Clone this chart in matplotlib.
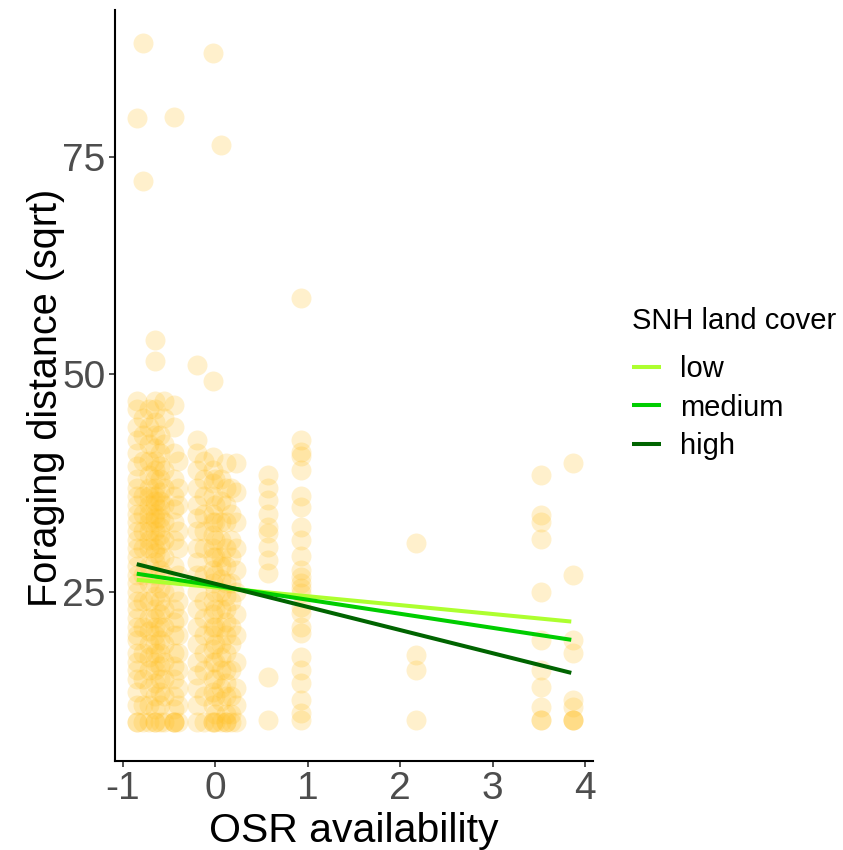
import numpy as np
import matplotlib.pyplot as plt

plt.rcParams['font.family'] = ['Liberation Sans', 'DejaVu Sans']
plt.rcParams['axes.unicode_minus'] = False

# foraging distance (sqrt) observed at each OSR availability value
osr_groups = [-0.85, -0.78, -0.72, -0.65, -0.60, -0.55, -0.45, -0.40, -0.20,
              -0.12, -0.03, 0.00, 0.06, 0.12, 0.17, 0.22, 0.57, 0.93, 2.17,
              3.52, 3.87]
dist_groups = [
    [10, 10, 12, 13.5, 15, 16, 17, 18, 19.5, 20, 21, 22, 23, 24, 25, 26, 27,
     28, 29, 30, 31, 32, 33, 34, 35, 36, 37, 38, 39.5, 41, 42.5, 44, 46, 47, 79.5],
    [88.1, 72.2, 45, 43, 40, 36, 34, 32, 30, 27, 24, 21, 18, 15, 12, 10],
    [46, 44, 42, 40, 38.5, 37, 36, 35, 34, 33, 32, 31, 30, 28, 26, 24, 22,
     20.5, 19, 17.5, 16, 14, 12, 10],
    [54.0, 51.6, 47, 46, 44.5, 43, 41.5, 40, 39, 38, 37, 36, 35.5, 35, 34, 33.5,
     33, 32, 31, 30, 29.5, 28.5, 27, 26, 24.5, 23, 22, 21, 20, 19, 18, 17, 16,
     14.5, 13, 11.5, 10, 10],
    [43, 41, 39.5, 38, 36.5, 35.5, 34.5, 33.5, 32.5, 31.5, 30.5, 29, 27.5, 25.5,
     24, 22.5, 21, 19.5, 18, 16.5, 15, 13.5, 12, 10],
    [47, 45, 42, 39, 37, 35, 33, 31, 29, 27, 25, 23, 21, 19, 17, 15, 13, 10],
    [79.6, 46.5, 44, 41, 38, 36, 34.5, 33, 31, 28, 25, 23, 21.5, 20, 18, 16.5,
     15, 13, 11.5, 10, 10, 10],
    [40, 37, 35, 32, 30, 27, 24, 22, 20, 18, 16, 14, 12, 10],
    [51.1, 42.5, 41, 39, 37, 35, 33.5, 32, 30, 28.5, 27, 25, 23, 21, 19, 17,
     15.5, 14, 12, 10],
    [40, 38, 36, 34, 32, 30, 27, 24, 22, 20, 18, 16, 13, 10],
    [87.0, 49.2, 40.5, 39, 37.5, 36, 34, 33, 31.5, 30, 29, 27.5, 26, 24, 22.5,
     21, 20, 18.5, 17, 15, 13.5, 12, 10, 10],
    [38, 35, 33, 31, 29, 27, 25, 23, 21, 19, 17, 15, 13, 11, 10],
    [76.4, 38, 35.5, 33, 31, 29, 28, 26.5, 25, 23, 21, 19, 17.5, 16, 14, 12.5, 10],
    [39.8, 37, 35, 33, 30, 28, 26, 24.5, 23, 21.5, 20, 18, 16, 14.5, 13, 11, 10, 10],
    [37, 34, 31, 29, 26, 24, 21, 19, 16, 13, 11, 10],
    [39.8, 36.5, 33, 30, 27.5, 25, 22.5, 20, 17, 14, 12, 10],
    [38.4, 37, 35.6, 34, 32.5, 31.8, 30.2, 28.7, 27.2, 15.2, 10.3],
    [58.8, 42.5, 41.1, 40.6, 39.0, 36.0, 34.8, 32.5, 31.0, 29.1, 27.5, 26.7,
     26.0, 25.5, 24.9, 23.3, 22.6, 21.0, 20.3, 17.5, 16.0, 14.5, 12.6, 11.1, 10.3],
    [30.6, 17.8, 16.0, 10.3],
    [38.4, 33.9, 33.1, 31.1, 25.0, 19.5, 16.0, 14.1, 11.8, 10.3, 10.3],
    [39.8, 27.0, 19.5, 18.0, 12.6, 11.8, 10.3, 10.3, 10.3],
]

# fitted lines per SNH land cover class
snh_levels = ['low', 'medium', 'high']
fit_x = [-0.85, 3.85]
fit_y = {'low': [26.4, 21.6], 'medium': [27.1, 19.5], 'high': [28.2, 15.7]}
line_colors = {'low': '#ADFF2F', 'medium': '#00CD00', 'high': '#006400'}

fig = plt.figure(figsize=(8.43, 8.5), dpi=100)
ax = fig.add_axes([115 / 843, 89 / 850, 478 / 843, 751 / 850])

xs = np.concatenate([[x] * len(ys) for x, ys in zip(osr_groups, dist_groups)])
ys = np.concatenate(dist_groups)
ax.scatter(xs, ys, s=207, color='#FFC125', alpha=0.23, linewidths=0, zorder=2)

for lvl in snh_levels:
    ax.plot(fit_x, fit_y[lvl], color=line_colors[lvl], lw=2.9, label=lvl,
            solid_capstyle='butt', zorder=3)

ax.set_xlim(-1.085, 4.085)
ax.set_ylim(5.57, 91.9)
ax.set_xticks([-1, 0, 1, 2, 3, 4])
ax.set_yticks([25, 50, 75])

for side in ['top', 'right']:
    ax.spines[side].set_visible(False)
for side in ['left', 'bottom']:
    ax.spines[side].set_linewidth(1.5)
    ax.spines[side].set_color('black')
ax.tick_params(axis='both', length=4, width=1.2, color='#333333',
               labelsize=28, labelcolor='#4D4D4D', pad=3)

ax.set_xlabel('OSR availability', fontsize=29.5, color='black', labelpad=4)
ax.set_ylabel('Foraging distance (sqrt)', fontsize=28.5, color='black')
ax.yaxis.set_label_coords(-0.105, 0.483)

# legend: title placed on its own for the wider gap above the keys
fig.text(632 / 843, 1 - 321 / 850, 'SNH land cover', fontsize=21,
         ha='left', va='center')
leg = fig.legend(loc='upper left', bbox_to_anchor=(632 / 843, 1 - 355 / 850),
                 fontsize=21, frameon=False, handlelength=1.0,
                 handletextpad=0.65, labelspacing=0.36, borderpad=0,
                 borderaxespad=0)

fig.savefig('out.png', dpi=100, facecolor='white')
